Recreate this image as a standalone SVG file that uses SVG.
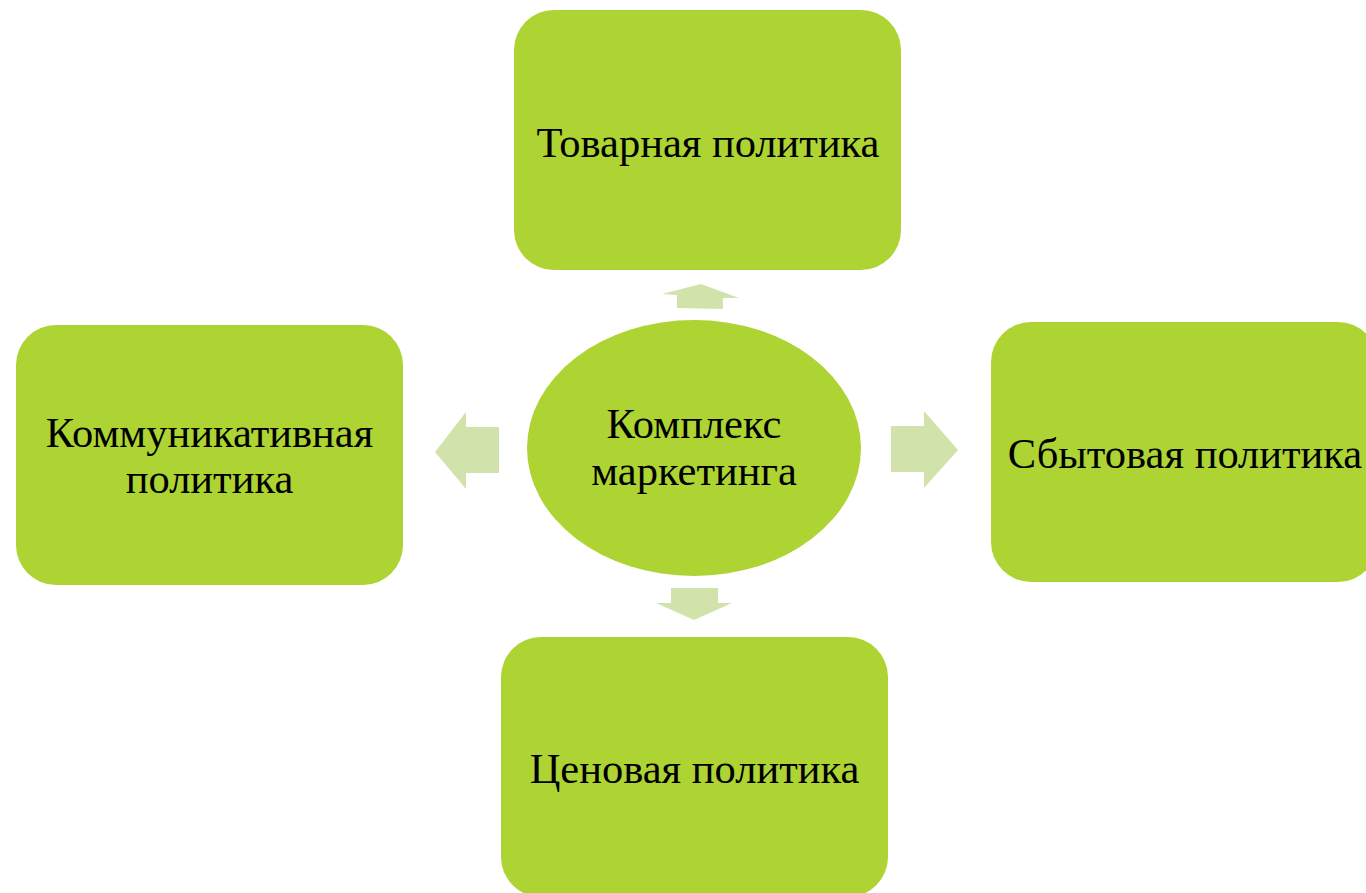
<svg xmlns="http://www.w3.org/2000/svg" width="1366" height="893" viewBox="0 0 1366 893">
<style>
.box{fill:#ADD432;}
.arr{fill:#D1E3AA;}
text{font-family:"Liberation Serif","Times New Roman",serif;font-size:42.5px;fill:#000;text-anchor:middle;}
</style>
<rect width="1366" height="893" fill="#fff"/>
<g id="connectors">
<polygon class="arr" points="701,284 739,298 723,298 723,309 677,308 677,295 662,294"/>
<polygon class="arr" points="435,452 466,412 466,427 499,427 499,473 466,473 466,489"/>
<polygon class="arr" points="958,450 924,411 924,426 891,426 891,472 924,472 924,488"/>
<polygon class="arr" points="694,620 732,603 718,603 718,588 671,588 671,603 656,603"/>
</g>
<g id="node-center">
<ellipse class="box" cx="694" cy="448" rx="167" ry="128"/>
<text x="694" y="438">Комплекс</text>
<text x="694" y="485">маркетинга</text>
</g>
<g id="node-top">
<rect class="box" x="514" y="10" width="387" height="260" rx="40"/>
<text x="708" y="157">Товарная политика</text>
</g>
<g id="node-left">
<rect class="box" x="16" y="325" width="387" height="260" rx="40"/>
<text x="209.5" y="447">Коммуникативная</text>
<text x="209.5" y="493">политика</text>
</g>
<g id="node-right">
<rect class="box" x="991" y="322" width="387" height="260" rx="40"/>
<text x="1185" y="468">Сбытовая политика</text>
</g>
<g id="node-bottom">
<rect class="box" x="501" y="637" width="387" height="260" rx="40"/>
<text x="694.5" y="783">Ценовая политика</text>
</g>
</svg>
